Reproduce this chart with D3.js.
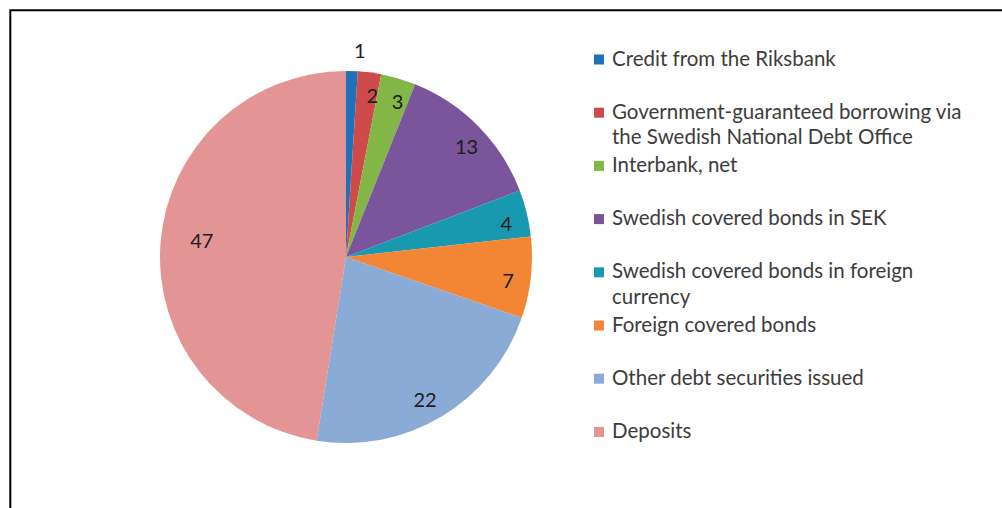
<!DOCTYPE html>
<html>
<head>
<meta charset="utf-8">
<script src="https://cdn.jsdelivr.net/npm/d3@7"></script>
<style>
  html, body { margin: 0; padding: 0; background: #fff; }
  svg { display: block; }
</style>
</head>
<body>
<svg id="chart" width="1002" height="508"></svg>
<script>
// Funding sources, per cent of total
const categories = [
  "Credit from the Riksbank",
  "Government-guaranteed borrowing via\nthe Swedish National Debt Office",
  "Interbank, net",
  "Swedish covered bonds in SEK",
  "Swedish covered bonds in foreign\ncurrency",
  "Foreign covered bonds",
  "Other debt securities issued",
  "Deposits"
];
const values = [1, 2, 3, 13, 4, 7, 22, 47];
const colors = ["#1f72b8", "#cf4a4a", "#84b547", "#7a559b", "#1899b0", "#f38634", "#8aabd6", "#e39494"];

const svg = d3.select("#chart");
const W = 1002, H = 508;
const cx = 346, cy = 257, R = 186;
const font = "Lato, 'Open Sans', sans-serif";

// outer frame (top and left edges visible)
svg.append("path")
  .attr("d", `M10.3,${H} V10.3 H${W}`)
  .attr("fill", "none")
  .attr("stroke", "#000")
  .attr("stroke-width", 2);

const pie = d3.pie().sort(null).value(d => d)
  .startAngle(0).endAngle(2 * Math.PI);
const arcs = pie(values);
const total = d3.sum(values);
const arc = d3.arc().innerRadius(0).outerRadius(R);

const g = svg.append("g").attr("transform", `translate(${cx},${cy})`);

g.selectAll("path.slice")
  .data(arcs)
  .enter().append("path")
  .attr("class", "slice")
  .attr("d", arc)
  .attr("fill", (d, i) => colors[i]);

// value labels: small slices outside, large slices further in
const angleShift = 2 * Math.PI / 180;
g.selectAll("text.val")
  .data(arcs)
  .enter().append("text")
  .attr("class", "val")
  .each(function (d) {
    const a = (d.startAngle + d.endAngle) / 2 + angleShift;
    const share = d.data / total;
    const r = d.data < 1.5 ? R * 1.11 : (share > 0.3 ? R * 0.78 : R * 0.88);
    d3.select(this)
      .attr("x", r * Math.sin(a))
      .attr("y", -r * Math.cos(a));
  })
  .attr("text-anchor", "middle")
  .attr("dy", "0.36em")
  .attr("font-family", font)
  .attr("font-size", 20)
  .attr("fill", "#1c1c1c")
  .text(d => d.data);

// legend
const legX = 594, legY = 65.5, legStep = 53.2, lineH = 25.5;
const leg = svg.append("g");
categories.forEach((name, i) => {
  const y0 = legY + i * legStep;
  leg.append("rect")
    .attr("x", legX)
    .attr("y", y0 - 11)
    .attr("width", 10)
    .attr("height", 10)
    .attr("fill", colors[i]);
  const t = leg.append("text")
    .attr("x", legX + 18)
    .attr("y", y0)
    .attr("font-family", font)
    .attr("font-size", 20.5)
    .attr("fill", "#3c3c3c");
  name.split("\n").forEach((line, j) => {
    t.append("tspan")
      .attr("x", legX + 18)
      .attr("y", y0 + j * lineH)
      .text(line);
  });
});
</script>
</body>
</html>
